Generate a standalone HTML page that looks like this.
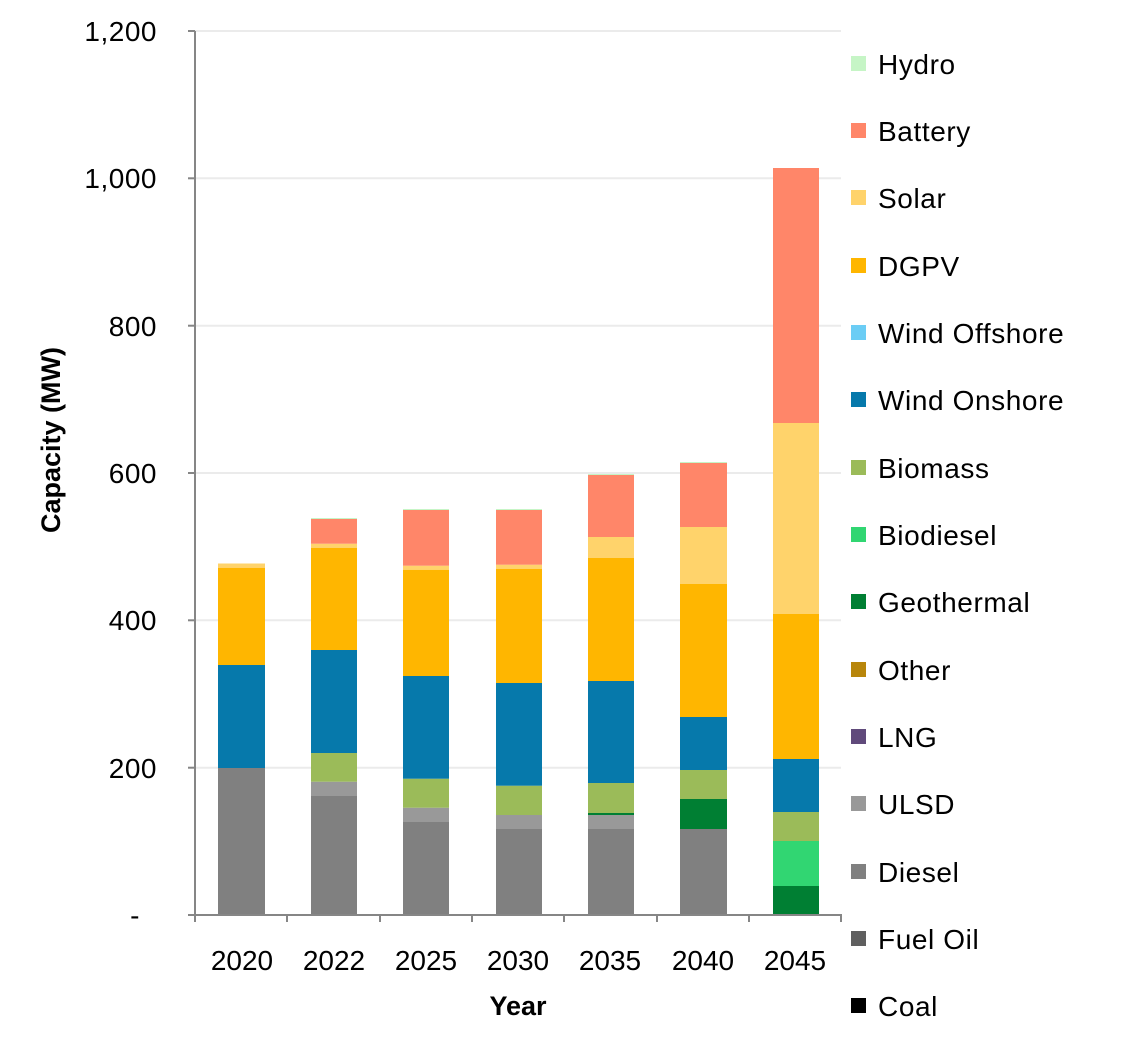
<!DOCTYPE html>
<html><head><meta charset="utf-8"><style>body{margin:0;background:#fff}svg{display:block}text{font-family:"Liberation Sans",sans-serif;fill:#000}</style></head><body>
<svg width="1125" height="1051" viewBox="0 0 1125 1051">
<g stroke="#ebebeb" stroke-width="2">
<line x1="195" x2="841" y1="31" y2="31"/><line x1="195" x2="841" y1="178.3" y2="178.3"/><line x1="195" x2="841" y1="325.7" y2="325.7"/><line x1="195" x2="841" y1="473" y2="473"/><line x1="195" x2="841" y1="620.3" y2="620.3"/><line x1="195" x2="841" y1="767.7" y2="767.7"/>
</g>
<g>
<rect x="218" y="768" width="47" height="147" fill="#808080"/>
<rect x="218" y="665" width="47" height="103" fill="#0679ab"/>
<rect x="218" y="567.7" width="47" height="97.3" fill="#ffb600"/>
<rect x="218" y="563.5" width="47" height="4.2" fill="#ffd36b"/>
<rect x="311" y="796" width="46" height="119" fill="#808080"/>
<rect x="311" y="781.7" width="46" height="14.3" fill="#999"/>
<rect x="311" y="753" width="46" height="28.7" fill="#9bbb59"/>
<rect x="311" y="650" width="46" height="103" fill="#0679ab"/>
<rect x="311" y="547.7" width="46" height="102.3" fill="#ffb600"/>
<rect x="311" y="543.7" width="46" height="4" fill="#ffd36b"/>
<rect x="311" y="519" width="46" height="24.7" fill="#ff8669"/>
<rect x="311" y="518" width="46" height="1" fill="#c6f5c6"/>
<rect x="403" y="822" width="46" height="93" fill="#808080"/>
<rect x="403" y="807.7" width="46" height="14.3" fill="#999"/>
<rect x="403" y="778.7" width="46" height="29" fill="#9bbb59"/>
<rect x="403" y="676" width="46" height="102.7" fill="#0679ab"/>
<rect x="403" y="569.7" width="46" height="106.3" fill="#ffb600"/>
<rect x="403" y="565.7" width="46" height="4" fill="#ffd36b"/>
<rect x="403" y="510" width="46" height="55.7" fill="#ff8669"/>
<rect x="403" y="509" width="46" height="1" fill="#c6f5c6"/>
<rect x="496" y="829" width="46" height="86" fill="#808080"/>
<rect x="496" y="815" width="46" height="14" fill="#999"/>
<rect x="496" y="785.7" width="46" height="29.3" fill="#9bbb59"/>
<rect x="496" y="683" width="46" height="102.7" fill="#0679ab"/>
<rect x="496" y="568.7" width="46" height="114.3" fill="#ffb600"/>
<rect x="496" y="564.7" width="46" height="4" fill="#ffd36b"/>
<rect x="496" y="510" width="46" height="54.7" fill="#ff8669"/>
<rect x="496" y="509" width="46" height="1" fill="#c6f5c6"/>
<rect x="588" y="829" width="46" height="86" fill="#808080"/>
<rect x="588" y="815" width="46" height="14" fill="#999"/>
<rect x="588" y="813" width="46" height="2" fill="#007f33"/>
<rect x="588" y="783" width="46" height="30" fill="#9bbb59"/>
<rect x="588" y="681" width="46" height="102" fill="#0679ab"/>
<rect x="588" y="558" width="46" height="123" fill="#ffb600"/>
<rect x="588" y="537" width="46" height="21" fill="#ffd36b"/>
<rect x="588" y="475" width="46" height="62" fill="#ff8669"/>
<rect x="588" y="474" width="46" height="1" fill="#c6f5c6"/>
<rect x="680" y="829" width="47" height="86" fill="#808080"/>
<rect x="680" y="799" width="47" height="30" fill="#007f33"/>
<rect x="680" y="770" width="47" height="29" fill="#9bbb59"/>
<rect x="680" y="717" width="47" height="53" fill="#0679ab"/>
<rect x="680" y="584" width="47" height="133" fill="#ffb600"/>
<rect x="680" y="527" width="47" height="57" fill="#ffd36b"/>
<rect x="680" y="463" width="47" height="64" fill="#ff8669"/>
<rect x="680" y="462" width="47" height="1" fill="#c6f5c6"/>
<rect x="773" y="886" width="46" height="29" fill="#007f33"/>
<rect x="773" y="841" width="46" height="45" fill="#31d672"/>
<rect x="773" y="812" width="46" height="29" fill="#9bbb59"/>
<rect x="773" y="759" width="46" height="53" fill="#0679ab"/>
<rect x="773" y="614" width="46" height="145" fill="#ffb600"/>
<rect x="773" y="423" width="46" height="191" fill="#ffd36b"/>
<rect x="773" y="168" width="46" height="255" fill="#ff8669"/>
</g>
<g stroke="#868686" stroke-width="2" fill="none">
<line x1="195" y1="31" x2="195" y2="916"/>
<line x1="194" y1="915" x2="842" y2="915"/>
<line x1="188" x2="195" y1="31" y2="31"/><line x1="188" x2="195" y1="178.3" y2="178.3"/><line x1="188" x2="195" y1="325.7" y2="325.7"/><line x1="188" x2="195" y1="473" y2="473"/><line x1="188" x2="195" y1="620.3" y2="620.3"/><line x1="188" x2="195" y1="767.7" y2="767.7"/><line x1="188" x2="195" y1="915" y2="915"/>
<line x1="195" x2="195" y1="915" y2="922"/><line x1="287" x2="287" y1="915" y2="922"/><line x1="380" x2="380" y1="915" y2="922"/><line x1="472" x2="472" y1="915" y2="922"/><line x1="564" x2="564" y1="915" y2="922"/><line x1="657" x2="657" y1="915" y2="922"/><line x1="749" x2="749" y1="915" y2="922"/><line x1="841" x2="841" y1="915" y2="922"/>
</g>
<g font-size="28" text-anchor="end" letter-spacing="0.5">
<text x="157" y="41">1,200</text><text x="157" y="188">1,000</text><text x="157" y="336">800</text><text x="157" y="483">600</text><text x="157" y="630">400</text><text x="157" y="778">200</text><text x="140" y="925">-</text>
</g>
<g font-size="28" text-anchor="middle">
<text x="242" y="970">2020</text><text x="334" y="970">2022</text><text x="426" y="970">2025</text><text x="518" y="970">2030</text><text x="610" y="970">2035</text><text x="703" y="970">2040</text><text x="795" y="970">2045</text>
</g>
<text x="518" y="1015" font-size="27" font-weight="bold" text-anchor="middle">Year</text>
<text transform="translate(60,440) rotate(-90)" font-size="27" font-weight="bold" text-anchor="middle">Capacity (MW)</text>
<g font-size="28" letter-spacing="0.6">
<rect x="851" y="56" width="15" height="15" fill="#c6f5c6"/><text x="878" y="74">Hydro</text>
<rect x="851" y="123" width="15" height="15" fill="#ff8669"/><text x="878" y="141">Battery</text>
<rect x="851" y="190" width="15" height="15" fill="#ffd36b"/><text x="878" y="208">Solar</text>
<rect x="851" y="258" width="15" height="15" fill="#ffb600"/><text x="878" y="276">DGPV</text>
<rect x="851" y="325" width="15" height="15" fill="#6bcdf5"/><text x="878" y="343">Wind Offshore</text>
<rect x="851" y="392" width="15" height="15" fill="#0679ab"/><text x="878" y="410">Wind Onshore</text>
<rect x="851" y="460" width="15" height="15" fill="#9bbb59"/><text x="878" y="478">Biomass</text>
<rect x="851" y="527" width="15" height="15" fill="#31d672"/><text x="878" y="545">Biodiesel</text>
<rect x="851" y="594" width="15" height="15" fill="#007f33"/><text x="878" y="612">Geothermal</text>
<rect x="851" y="662" width="15" height="15" fill="#b8860b"/><text x="878" y="680">Other</text>
<rect x="851" y="729" width="15" height="15" fill="#604a7b"/><text x="878" y="747">LNG</text>
<rect x="851" y="796" width="15" height="15" fill="#999"/><text x="878" y="814">ULSD</text>
<rect x="851" y="864" width="15" height="15" fill="#808080"/><text x="878" y="882">Diesel</text>
<rect x="851" y="931" width="15" height="15" fill="#5f5f5f"/><text x="878" y="949">Fuel Oil</text>
<rect x="851" y="998" width="15" height="15" fill="#000"/><text x="878" y="1016">Coal</text>
</g>
</svg>
</body></html>
